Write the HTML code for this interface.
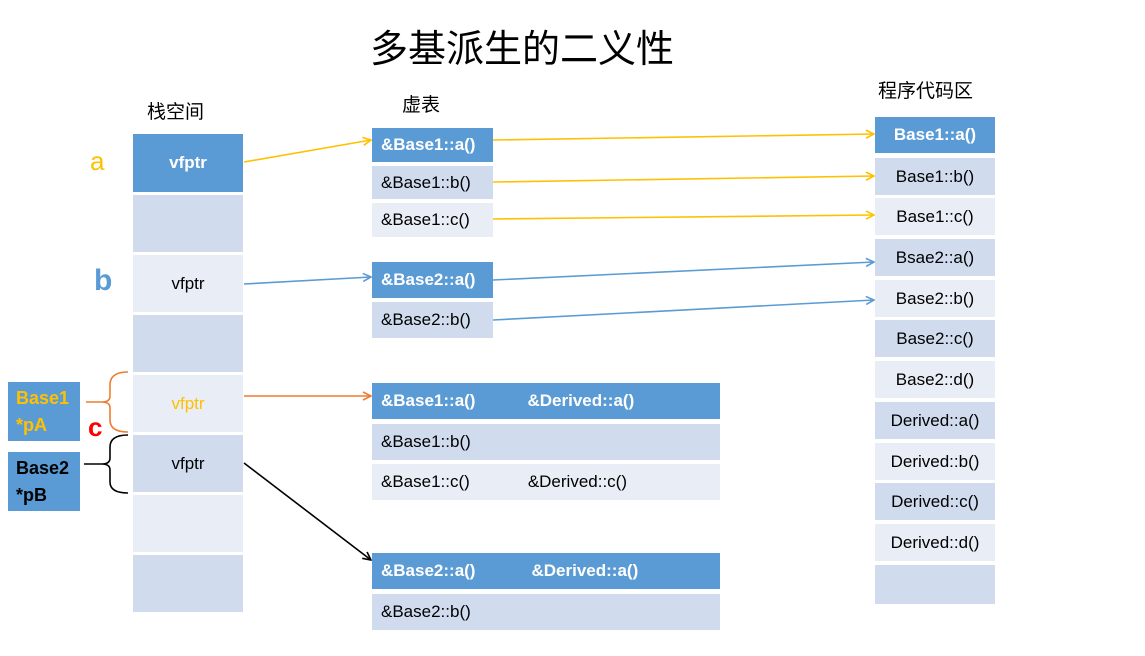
<!DOCTYPE html><html><head><meta charset="utf-8"><style>
body{margin:0;width:1145px;height:656px;background:#fff;position:relative;overflow:hidden;font-family:"Liberation Sans","Noto Sans CJK SC",sans-serif}
.b{position:absolute;box-sizing:border-box;display:flex;align-items:center;font-size:17px;color:#000}
.d{background:#5B9BD5;color:#fff;font-weight:bold}
.l1{background:#D0DCEE}.l2{background:#E9EEF6}
.c{justify-content:center}.p{padding-left:9px}
.t{position:absolute;font-size:19px}
</style></head><body>
<div class="t" style="left:370px;top:18px;font-size:38px">多基派生的二义性</div>
<div class="t" style="left:147px;top:97px">栈空间</div>
<div class="t" style="left:402px;top:90px">虚表</div>
<div class="t" style="left:878px;top:76px">程序代码区</div>
<div class="t" style="left:90px;top:146px;color:#FFC000;font-size:26px">a</div>
<div class="t" style="left:94px;top:264px;color:#5B9BD5;font-size:30px;font-weight:bold">b</div>
<div class="t" style="left:88px;top:412px;color:#f00;font-size:26px;font-weight:bold">c</div>
<div class="b" style="left:8px;top:382px;width:72px;height:59px;background:#5B9BD5;color:#FFC000;font-weight:bold;font-size:18px;padding-left:8px;line-height:27px;flex-direction:column;align-items:flex-start;justify-content:center">Base1<br>*pA</div>
<div class="b" style="left:8px;top:452px;width:72px;height:59px;background:#5B9BD5;color:#000;font-weight:bold;font-size:18px;padding-left:8px;line-height:27px;flex-direction:column;align-items:flex-start;justify-content:center">Base2<br>*pB</div>
<!-- stack -->
<div class="b d c" style="left:133px;top:134px;width:110px;height:58px">vfptr</div>
<div class="b l1" style="left:133px;top:195px;width:110px;height:57px"></div>
<div class="b l2 c" style="left:133px;top:255px;width:110px;height:57px">vfptr</div>
<div class="b l1" style="left:133px;top:315px;width:110px;height:57px"></div>
<div class="b l2 c" style="left:133px;top:375px;width:110px;height:57px;color:#FFC000">vfptr</div>
<div class="b l1 c" style="left:133px;top:435px;width:110px;height:57px">vfptr</div>
<div class="b l2" style="left:133px;top:495px;width:110px;height:57px"></div>
<div class="b l1" style="left:133px;top:555px;width:110px;height:57px"></div>
<!-- vtable1 -->
<div class="b d p" style="left:372px;top:128px;width:121px;height:34px">&amp;Base1::a()</div>
<div class="b l1 p" style="left:372px;top:166px;width:121px;height:33px">&amp;Base1::b()</div>
<div class="b l2 p" style="left:372px;top:203px;width:121px;height:34px">&amp;Base1::c()</div>
<div class="b d p" style="left:372px;top:262px;width:121px;height:36px">&amp;Base2::a()</div>
<div class="b l1 p" style="left:372px;top:302px;width:121px;height:36px">&amp;Base2::b()</div>
<div class="b d p" style="left:372px;top:383px;width:348px;height:36px">&amp;Base1::a()<span style="margin-left:52px">&amp;Derived::a()</span></div>
<div class="b l1 p" style="left:372px;top:424px;width:348px;height:36px">&amp;Base1::b()</div>
<div class="b l2 p" style="left:372px;top:464px;width:348px;height:36px">&amp;Base1::c()<span style="margin-left:58px">&amp;Derived::c()</span></div>
<div class="b d p" style="left:372px;top:553px;width:348px;height:36px">&amp;Base2::a()<span style="margin-left:56px">&amp;Derived::a()</span></div>
<div class="b l1 p" style="left:372px;top:594px;width:348px;height:36px">&amp;Base2::b()</div>
<!-- code -->
<div class="b d c" style="left:875px;top:117px;width:120px;height:36px">Base1::a()</div>
<div class="b l1 c" style="left:875px;top:158px;width:120px;height:37px">Base1::b()</div>
<div class="b l2 c" style="left:875px;top:198px;width:120px;height:37px">Base1::c()</div>
<div class="b l1 c" style="left:875px;top:239px;width:120px;height:37px">Bsae2::a()</div>
<div class="b l2 c" style="left:875px;top:280px;width:120px;height:37px">Base2::b()</div>
<div class="b l1 c" style="left:875px;top:320px;width:120px;height:37px">Base2::c()</div>
<div class="b l2 c" style="left:875px;top:361px;width:120px;height:37px">Base2::d()</div>
<div class="b l1 c" style="left:875px;top:402px;width:120px;height:37px">Derived::a()</div>
<div class="b l2 c" style="left:875px;top:443px;width:120px;height:37px">Derived::b()</div>
<div class="b l1 c" style="left:875px;top:483px;width:120px;height:37px">Derived::c()</div>
<div class="b l2 c" style="left:875px;top:524px;width:120px;height:37px">Derived::d()</div>
<div class="b l1" style="left:875px;top:565px;width:120px;height:39px"></div>
<svg width="1145" height="656" style="position:absolute;left:0;top:0" fill="none" stroke-width="1.6">
<defs>
<marker id="y" markerWidth="10" markerHeight="10" refX="9" refY="5" orient="auto" markerUnits="userSpaceOnUse"><path d="M1 1L9 5L1 9" stroke="#FFC000" fill="none" stroke-width="1.6"/></marker>
<marker id="bl" markerWidth="10" markerHeight="10" refX="9" refY="5" orient="auto" markerUnits="userSpaceOnUse"><path d="M1 1L9 5L1 9" stroke="#5B9BD5" fill="none" stroke-width="1.6"/></marker>
<marker id="o" markerWidth="10" markerHeight="10" refX="9" refY="5" orient="auto" markerUnits="userSpaceOnUse"><path d="M1 1L9 5L1 9" stroke="#ED7D31" fill="none" stroke-width="1.6"/></marker>
<marker id="k" markerWidth="10" markerHeight="10" refX="9" refY="5" orient="auto" markerUnits="userSpaceOnUse"><path d="M1 1L9 5L1 9" stroke="#000" fill="none" stroke-width="1.6"/></marker>
</defs>
<g stroke="#FFC000">
<line x1="244" y1="162" x2="371" y2="140" marker-end="url(#y)"/>
<line x1="493" y1="140" x2="874" y2="134" marker-end="url(#y)"/>
<line x1="493" y1="182" x2="874" y2="176" marker-end="url(#y)"/>
<line x1="493" y1="219" x2="874" y2="215" marker-end="url(#y)"/>
</g>
<g stroke="#5B9BD5">
<line x1="244" y1="284" x2="371" y2="277" marker-end="url(#bl)"/>
<line x1="493" y1="280" x2="874" y2="262" marker-end="url(#bl)"/>
<line x1="493" y1="320" x2="874" y2="300" marker-end="url(#bl)"/>
</g>
<line x1="244" y1="396" x2="371" y2="396" stroke="#ED7D31" marker-end="url(#o)"/>
<line x1="244" y1="463" x2="371" y2="560" stroke="#000" marker-end="url(#k)"/>
<path d="M128 372 Q110 372 110 385 L110 396 Q110 402 102 402 L86 402 M102 402 Q110 402 110 408 L110 420 Q110 432 128 432" stroke="#ED7D31"/>
<path d="M128 435 Q110 435 110 447 L110 458 Q110 464 102 464 L84 464 M102 464 Q110 464 110 470 L110 482 Q110 493 128 493" stroke="#000"/>
</svg>
</body></html>
